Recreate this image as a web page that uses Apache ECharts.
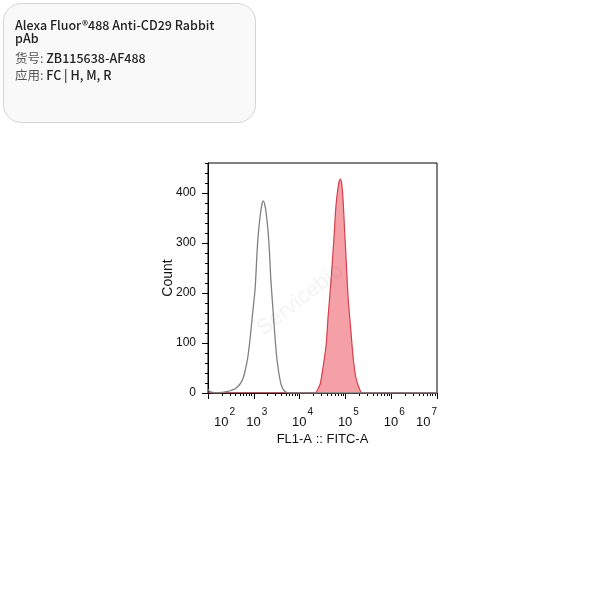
<!DOCTYPE html>
<html>
<head>
<meta charset="utf-8">
<script src="https://cdn.jsdelivr.net/npm/echarts@6/dist/echarts.min.js"></script>
<style>html,body{margin:0;padding:0;background:#fff;}#c{width:600px;height:600px;}</style>
</head>
<body>
<div id="c"></div>
<script>
// x values are log10(fluorescence) decades
const decadeTicks = [2, 3, 4, 5, 6, 7];
const yTicks = [0, 100, 200, 300, 400];
const controlX = [2.0, 2.04, 2.1, 2.2, 2.3, 2.36, 2.42, 2.5, 2.6, 2.7, 2.76, 2.81, 2.87, 2.92, 2.97, 3.03, 3.07, 3.1, 3.14, 3.18, 3.21, 3.25, 3.28, 3.31, 3.34, 3.37, 3.42, 3.46, 3.5, 3.55, 3.6, 3.66, 3.72, 3.8, 4.5, 7.0];
const controlY = [7, 3, 1, 0.5, 1, 2, 3, 5, 9, 18, 28, 44, 72, 110, 155, 210, 280, 320, 355, 378, 384, 372, 352, 325, 285, 230, 165, 115, 72, 38, 16, 5, 1, 0, 0, 0];
const stainedX = [2.0, 4.0, 4.34, 4.4, 4.45, 4.51, 4.58, 4.62, 4.69, 4.75, 4.79, 4.83, 4.86, 4.89, 4.92, 4.95, 4.98, 5.01, 5.06, 5.12, 5.17, 5.23, 5.3, 5.36, 5.5, 7.0];
const stainedY = [0, 0, 0, 8, 18, 50, 97, 150, 230, 310, 370, 405, 422, 428, 418, 385, 330, 278, 190, 124, 70, 30, 10, 0, 0, 0];
const minorTicks = [];
for (let n = 2; n < 7; n++) { for (let k = 2; k <= 9; k++) { minorTicks.push(n + Math.log10(k)); } }

const chart = echarts.init(document.getElementById('c'));
const zip = (xs, ys) => xs.map((x, i) => [x, ys[i]]);
const fontFam = 'Liberation Sans, Arial, sans-serif';
const cjk = '"Noto Sans CJK SC"';
chart.setOption({
  animation: false,
  backgroundColor: '#fff',
  grid: { left: 208, right: 163, top: 163, bottom: 207, show: true, borderColor: '#000', borderWidth: 1, backgroundColor: 'transparent' },
  xAxis: [
    {
      type: 'value', min: 2, max: 7, interval: 1, position: 'bottom',
      name: 'FL1-A :: FITC-A', nameLocation: 'middle', nameGap: 40, nameMoveOverlap: false,
      nameTextStyle: { fontFamily: fontFam, fontSize: 13, color: '#111' },
      axisLine: { lineStyle: { color: '#000', width: 1 } },
      axisTick: { length: 6, lineStyle: { color: '#000' }, customValues: decadeTicks },
      splitLine: { show: false },
      axisLabel: {
        margin: 14, alignMinLabel: 'left', alignMaxLabel: 'right', customValues: decadeTicks,
        formatter: v => '{sp|}{b|10}{e|' + Math.round(v) + '}',
        rich: {
          sp: { width: 6 },
          b: { fontFamily: fontFam, fontSize: 13, color: '#111', lineHeight: 30, verticalAlign: 'middle' },
          e: { fontFamily: fontFam, fontSize: 10, color: '#111', lineHeight: 10, verticalAlign: 'top', padding: [0, 0, 0, 1] }
        }
      }
    },
    {
      type: 'value', min: 2, max: 7, position: 'bottom',
      axisLine: { show: false },
      axisTick: { length: 3, lineStyle: { color: '#000' }, customValues: minorTicks },
      axisLabel: { show: false },
      splitLine: { show: false }
    }
  ],
  yAxis: [
    {
      type: 'value', min: 0, max: 460, interval: 100, position: 'left',
      name: 'Count', nameLocation: 'middle', nameGap: 33, nameRotate: 90, nameMoveOverlap: false,
      nameTextStyle: { fontFamily: fontFam, fontSize: 14, color: '#111' },
      axisLine: { show: true, lineStyle: { color: '#000', width: 1 } },
      axisTick: { show: true, length: 6, lineStyle: { color: '#000' }, customValues: yTicks },
      splitLine: { show: false },
      axisLabel: { margin: 12, customValues: yTicks, fontFamily: fontFam, fontSize: 12, color: '#111' }
    },
    {
      type: 'value', min: 0, max: 460, interval: 20, position: 'left',
      axisLine: { show: false },
      axisTick: { show: true, length: 3, lineStyle: { color: '#000' } },
      axisLabel: { show: false },
      splitLine: { show: false }
    }
  ],
  graphic: [
    { type: 'rect', left: 3, top: 3, shape: { width: 252, height: 119, r: 18 }, style: { fill: '#f9f9f9', stroke: '#d4d4d4', lineWidth: 1 }, z: 10 },
    { type: 'text', left: 15, top: 19, style: { text: 'Alexa Fluor®488 Anti-CD29 Rabbit', font: '500 12.5px ' + cjk, fill: '#222' }, z: 11 },
    { type: 'text', left: 15, top: 32, style: { text: 'pAb', font: '500 12.5px ' + cjk, fill: '#222' }, z: 11 },
    { type: 'text', left: 15, top: 52, style: { text: '{l|货号: }{v|ZB115638-AF488}', rich: { l: { font: '400 12.5px ' + cjk, fill: '#555' }, v: { font: '500 12.5px ' + cjk, fill: '#222' } } }, z: 11 },
    { type: 'text', left: 15, top: 69, style: { text: '{l|应用: }{v|FC | H, M, R}', rich: { l: { font: '400 12.5px ' + cjk, fill: '#555' }, v: { font: '500 12.5px ' + cjk, fill: '#222' } } }, z: 11 },
    { type: 'text', x: 300, y: 300, rotation: Math.PI * 0.21, style: { text: 'Servicebio', font: '22px "Liberation Sans"', fill: 'rgba(0,0,0,0.05)', align: 'center', verticalAlign: 'middle' }, z: 5 }
  ],
  series: [
    {
      type: 'line', xAxisIndex: 0, yAxisIndex: 0, data: zip(stainedX, stainedY), smooth: 0.25, showSymbol: false,
      lineStyle: { color: '#d43f4c', width: 1.2 }, areaStyle: { color: '#f5a0a6', opacity: 1 }, z: 2
    },
    {
      type: 'line', xAxisIndex: 0, yAxisIndex: 0, data: zip(controlX, controlY), smooth: 0.25, showSymbol: false,
      lineStyle: { color: '#808080', width: 1.3 }, z: 3
    }
  ]
});
</script>
</body>
</html>
